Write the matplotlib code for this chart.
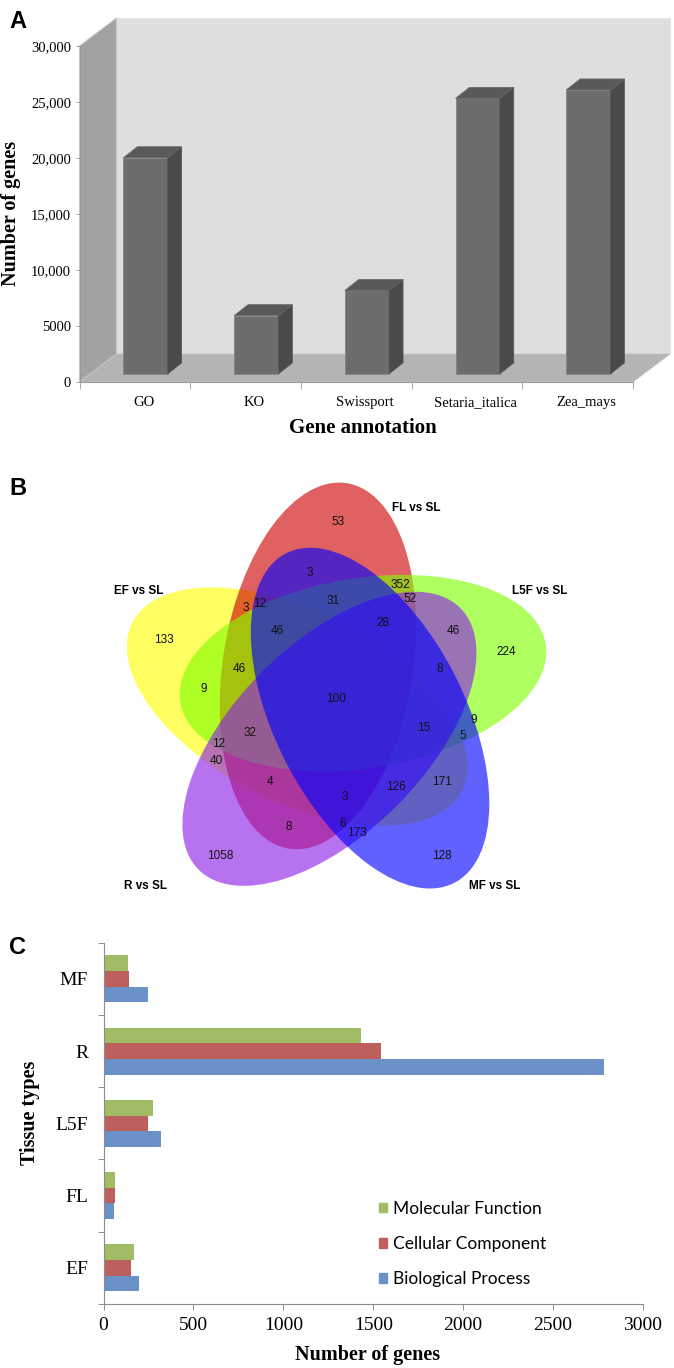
import numpy as np
import matplotlib
matplotlib.use('Agg')
import matplotlib.pyplot as plt
from matplotlib.patches import Polygon, Ellipse, Patch

# ---------------- data ----------------
# Panel A
annot_categories = ['GO', 'KO', 'Swissport', 'Setaria_italica', 'Zea_mays']
annot_counts = [19300, 5200, 7450, 24600, 25350]
annot_yticks = [0, 5000, 10000, 15000, 20000, 25000, 30000]
annot_yticklabels = ['0', '5000', '10,000', '15,000', '20,000', '25,000', '30,000']

# Panel B
venn_set_labels = ['FL vs SL', 'L5F vs SL', 'MF vs SL', 'R vs SL', 'EF vs SL']
venn_region_counts = [53, 3, 352, 52, 31, 3, 12, 46, 28, 46, 133, 224, 46, 8, 9,
                      100, 9, 15, 5, 32, 12, 40, 4, 171, 126, 3, 8, 6, 173, 1058, 128]

# Panel C
tissues = ['EF', 'FL', 'L5F', 'R', 'MF']
mf_counts = [171, 64, 273, 1430, 134]
cc_counts = [155, 64, 249, 1545, 143]
bp_counts = [199, 58, 321, 2785, 249]
go_categories = ['Molecular Function', 'Cellular Component', 'Biological Process']

# ---------------- layout ----------------
W, H = 674, 1368
fig = plt.figure(figsize=(W / 100, H / 100), dpi=100)
SERIF = 'Liberation Serif'
SANS = 'Liberation Sans'


def rect(l, t, r, b):
    return [l / W, 1 - b / H, (r - l) / W, (b - t) / H]


def fpos(x, y):
    return x / W, 1 - y / H


# ================= Panel A =================
axA = fig.add_axes(rect(79.5, 46, 633, 382))
n = len(annot_categories)
axA.set_xlim(-0.5, n - 0.5)
ymax = annot_yticks[-1]
axA.set_ylim(0, ymax)
dx, dy = 0.334, 2500.0          # floor depth in data units
x0, x1 = -0.5, n - 0.5
axA.add_patch(Polygon([(x0 + dx, dy), (x1 + dx, dy), (x1 + dx, ymax + dy), (x0 + dx, ymax + dy)],
                      closed=True, fc='#dedede', ec='#e6e6e6', lw=0.8, clip_on=False, zorder=0))
axA.add_patch(Polygon([(x0, 0), (x0, ymax), (x0 + dx, ymax + dy), (x0 + dx, dy)],
                      closed=True, fc='#a2a2a2', ec='#c8c8c8', lw=0.8, clip_on=False, zorder=1))
axA.add_patch(Polygon([(x0, 0), (x1, 0), (x1 + dx, dy), (x0 + dx, dy)],
                      closed=True, fc='#b4b4b4', ec='#c4c4c4', lw=0.6, clip_on=False, zorder=1))

frac = 0.29
bw = 0.4
bdx, bdy = 0.126, 982.0
xs = np.arange(n) + frac * dx
bottom = frac * dy
axA.bar(xs, annot_counts, width=bw, bottom=bottom, color='#6d6d6d',
        edgecolor='#858585', lw=0.6, zorder=3, clip_on=False)
for xc, v in zip(xs, annot_counts):
    top = bottom + v
    xr = xc + bw / 2
    xl = xc - bw / 2
    axA.add_patch(Polygon([(xr, bottom), (xr, top), (xr + bdx, top + bdy), (xr + bdx, bottom + bdy)],
                          closed=True, fc='#4a4a4a', ec='#555555', lw=0.5, zorder=3, clip_on=False))
    axA.add_patch(Polygon([(xl, top), (xr, top), (xr + bdx, top + bdy), (xl + bdx, top + bdy)],
                          closed=True, fc='#595959', ec='#666666', lw=0.5, zorder=3, clip_on=False))

for s in ['top', 'right']:
    axA.spines[s].set_visible(False)
axA.spines['left'].set_color('#9a9a9a')
axA.spines['bottom'].set_color('#9a9a9a')
axA.spines['left'].set_zorder(2)
axA.set_facecolor('none')
axA.set_yticks(annot_yticks)
axA.set_yticklabels(annot_yticklabels, fontfamily=SERIF, fontsize=10.5)
axA.tick_params(axis='y', length=3, width=0.6, color='#9a9a9a', pad=3)
axA.set_xticks(np.arange(n + 1) - 0.5)
axA.set_xticklabels([])
axA.tick_params(axis='x', which='major', length=5, width=0.6, color='#9a9a9a')
axA.set_xticks(np.arange(n) + 0.08, minor=True)
axA.set_xticklabels(annot_categories, minor=True, fontfamily=SERIF, fontsize=10.5)
axA.tick_params(axis='x', which='minor', length=0, pad=10)

fig.text(*fpos(11, 213), 'Number of genes', rotation=90, ha='center', va='center',
         fontfamily=SERIF, fontweight='bold', fontsize=14.5)
fig.text(*fpos(363, 428), 'Gene annotation', ha='center', va='center',
         fontfamily=SERIF, fontweight='bold', fontsize=15)
fig.text(*fpos(18, 22), 'A', ha='center', va='center', fontfamily=SANS,
         fontweight='bold', fontsize=17)

# ================= Panel B =================
axB = fig.add_axes(rect(0, 470, W, 900))
axB.set_xlim(0, W)
axB.set_ylim(900, 470)
axB.axis('off')

venn_center = (335.5, 700.5)
ring_r = 38.8
semi_a, semi_b = 185.0, 95.0
venn_colors = ['#cd0000', '#7fff00', '#0000ff', '#8c1ee6', '#ffff00']
venn_z = [2, 3, 5, 4, 1]
alpha = 0.62
for k in range(5):
    th = np.deg2rad(117 - 72 * k)
    phi = 81 - 72 * k
    cx = venn_center[0] + ring_r * np.cos(th)
    cy = venn_center[1] - ring_r * np.sin(th)
    axB.add_patch(Ellipse((cx, cy), 2 * semi_a, 2 * semi_b, angle=-phi,
                          fc=venn_colors[k], ec='none', alpha=alpha, zorder=venn_z[k]))

venn_label_pos = [(416.7, 507.7), (540, 590.7), (495, 886), (145, 886), (138.3, 590.7)]
for lab, (x, y) in zip(venn_set_labels, venn_label_pos):
    axB.text(x, y, lab, ha='center', va='center', fontfamily=SANS, fontweight='bold',
             fontsize=8.5, zorder=10)

venn_region_pos = [(338.3, 522.3), (309.3, 573.3), (400, 585), (410, 599), (332.7, 601),
                   (245.7, 607.7), (260, 604), (277.3, 630.7), (383.3, 623.3), (453.3, 630.7),
                   (164, 640), (506.7, 652), (239.3, 669.3), (440, 669.3), (203.3, 689.3),
                   (336, 699.3), (474, 720), (423.3, 728.3), (462.7, 736), (250, 733.3),
                   (219, 744), (216.7, 760.7), (270, 782.3), (441.7, 782.3), (396, 787.3),
                   (345, 797.3), (288.3, 826.7), (342.3, 824), (356.7, 833.3), (220, 856),
                   (441.7, 856)]
for v, (x, y) in zip(venn_region_counts, venn_region_pos):
    axB.text(x, y, str(v), ha='center', va='center', fontfamily=SANS, fontsize=8.5,
             color='#111111', zorder=10)

fig.text(*fpos(18, 489), 'B', ha='center', va='center', fontfamily=SANS,
         fontweight='bold', fontsize=17)

# ================= Panel C =================
axC = fig.add_axes(rect(103.5, 942.7, 643, 1304))
yc = np.arange(len(tissues))
bh = 0.217
c_green, c_red, c_blue = '#a0bd66', '#bd5f5a', '#6b92c7'
axC.barh(yc + bh, mf_counts, height=bh, color=c_green, label=go_categories[0])
axC.barh(yc, cc_counts, height=bh, color=c_red, label=go_categories[1])
axC.barh(yc - bh, bp_counts, height=bh, color=c_blue, label=go_categories[2])
axC.set_xlim(0, 3000)
axC.set_ylim(-0.5, len(tissues) - 0.5)
for s in ['top', 'right']:
    axC.spines[s].set_visible(False)
axC.spines['left'].set_color('#8c8c8c')
axC.spines['bottom'].set_color('#8c8c8c')
axC.set_xticks(np.arange(0, 3001, 500))
axC.set_xticklabels([str(t) for t in range(0, 3001, 500)], fontfamily=SERIF, fontsize=14)
axC.tick_params(axis='x', length=4, width=0.7, color='#8c8c8c', pad=5)
axC.set_yticks(np.arange(len(tissues) + 1) - 0.5)
axC.set_yticklabels([])
axC.tick_params(axis='y', which='major', length=4, width=0.7, color='#8c8c8c')
axC.set_yticks(yc, minor=True)
axC.set_yticklabels(tissues, minor=True, fontfamily=SERIF, fontsize=14)
axC.tick_params(axis='y', which='minor', length=0, pad=11)

handles = [Patch(color=c_green), Patch(color=c_red), Patch(color=c_blue)]
leg = fig.legend(handles, go_categories, loc='upper left', bbox_to_anchor=fpos(379, 1201),
                 frameon=False, handlelength=0.45, handleheight=0.45, handletextpad=0.35,
                 labelspacing=1.1, borderpad=0, borderaxespad=0,
                 prop={'family': 'Lato', 'size': 12.5})

fig.text(*fpos(30, 1113), 'Tissue types', rotation=90, ha='center', va='center',
         fontfamily=SERIF, fontweight='bold', fontsize=14.5)
fig.text(*fpos(368, 1355), 'Number of genes', ha='center', va='center',
         fontfamily=SERIF, fontweight='bold', fontsize=14.5)
fig.text(*fpos(17, 947), 'C', ha='center', va='center', fontfamily=SANS,
         fontweight='bold', fontsize=17)

fig.savefig('out.png', dpi=100)
